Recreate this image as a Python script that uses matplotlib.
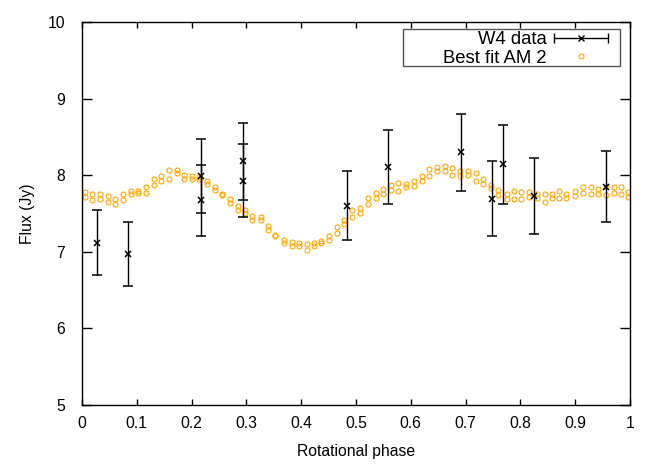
import numpy as np
import matplotlib.pyplot as plt
from matplotlib.legend_handler import HandlerErrorbar
from matplotlib.patches import Rectangle

plt.rcParams["font.family"] = ["Liberation Sans", "DejaVu Sans"]

# W4 measurements
w4_phase = [0.027, 0.084, 0.217, 0.217, 0.294, 0.294, 0.483, 0.559, 0.692,
            0.749, 0.768, 0.825, 0.957]
w4_flux = [7.12, 6.97, 7.99, 7.67, 8.18, 7.93, 7.60, 8.11, 8.30,
           7.69, 8.14, 7.73, 7.85]
w4_err = [0.42, 0.42, 0.48, 0.46, 0.50, 0.48, 0.45, 0.48, 0.50,
          0.49, 0.52, 0.50, 0.46]

# best-fit model (two interleaved sets of points)
model_phase = [0.005, 0.018, 0.033, 0.047, 0.061, 0.074, 0.089, 0.102, 0.117,
               0.131, 0.145, 0.159, 0.173, 0.187, 0.201, 0.214, 0.228, 0.242,
               0.255, 0.270, 0.284, 0.297, 0.311, 0.326, 0.339, 0.353, 0.368,
               0.383, 0.396, 0.410, 0.424, 0.437, 0.451, 0.465, 0.478, 0.492,
               0.507, 0.522, 0.536, 0.550, 0.564, 0.577, 0.592, 0.606, 0.620,
               0.634, 0.648, 0.662, 0.676, 0.690, 0.705, 0.719, 0.732, 0.746,
               0.760, 0.775, 0.789, 0.802, 0.816, 0.830, 0.844, 0.857, 0.870,
               0.884, 0.900, 0.914, 0.928, 0.942, 0.956, 0.970, 0.984, 0.997]
model_upper = [7.78, 7.75, 7.75, 7.73, 7.69, 7.75, 7.79, 7.80, 7.84,
               7.95, 7.99, 8.07, 8.07, 8.00, 7.99, 7.98, 7.92, 7.84,
               7.76, 7.69, 7.60, 7.54, 7.47, 7.45, 7.34, 7.22, 7.15,
               7.13, 7.11, 7.10, 7.12, 7.14, 7.20, 7.32, 7.42, 7.55,
               7.57, 7.70, 7.77, 7.82, 7.87, 7.90, 7.89, 7.92, 7.99,
               8.08, 8.11, 8.12, 8.09, 8.05, 8.06, 8.03, 7.95, 7.87,
               7.81, 7.75, 7.80, 7.78, 7.78, 7.76, 7.75, 7.75, 7.80,
               7.76, 7.80, 7.84, 7.85, 7.82, 7.84, 7.85, 7.85, 7.78]
model_lower = [7.71, 7.68, 7.69, 7.65, 7.62, 7.68, 7.75, 7.77, 7.77,
               7.87, 7.92, 7.95, 8.03, 7.95, 7.95, 7.95, 7.89, 7.81,
               7.74, 7.64, 7.55, 7.51, 7.42, 7.42, 7.28, 7.21, 7.11,
               7.08, 7.07, 7.03, 7.07, 7.11, 7.15, 7.25, 7.36, 7.45,
               7.50, 7.63, 7.70, 7.76, 7.81, 7.80, 7.85, 7.86, 7.93,
               7.99, 8.05, 8.06, 8.00, 7.99, 8.00, 7.93, 7.89, 7.83,
               7.74, 7.69, 7.69, 7.69, 7.72, 7.70, 7.65, 7.70, 7.70,
               7.70, 7.73, 7.77, 7.75, 7.75, 7.74, 7.77, 7.75, 7.72]

x_ticks = [0, 0.1, 0.2, 0.3, 0.4, 0.5, 0.6, 0.7, 0.8, 0.9, 1]
x_tick_labels = ["0", "0.1", "0.2", "0.3", "0.4", "0.5", "0.6", "0.7", "0.8", "0.9", "1"]
y_ticks = [5, 6, 7, 8, 9, 10]

ORANGE = "#ffa500"
FS = 11.3
LEG_FS = 13.3
W, H = 664, 465

fig = plt.figure(figsize=(W / 100, H / 100), dpi=100)
ax = fig.add_axes([82 / W, 1 - 405 / H, 548 / W, 383 / H])

ax.plot(model_phase, model_upper, linestyle="none", marker="o", markersize=3.6,
        markerfacecolor="none", markeredgecolor=ORANGE, markeredgewidth=0.8,
        label="Best fit AM 2", zorder=2)
ax.plot(model_phase, model_lower, linestyle="none", marker="o", markersize=3.6,
        markerfacecolor="none", markeredgecolor=ORANGE, markeredgewidth=0.8,
        zorder=2)

ax.errorbar(w4_phase, w4_flux, yerr=w4_err, fmt="x", color="black",
            markersize=5, markeredgewidth=1.1, elinewidth=1.0, capsize=3.5,
            capthick=1.0, zorder=3)

# legend proxy: gnuplot draws a horizontal error bar as the key sample
proxy = ax.errorbar([np.nan], [np.nan], xerr=[0.1], fmt="x", color="black",
                    markersize=5, markeredgewidth=1.0, elinewidth=1.0,
                    capsize=3.5, capthick=1.0, label="W4 data")

ax.set_xlim(0, 1)
ax.set_ylim(5, 10)
ax.set_xticks(x_ticks)
ax.set_xticklabels(x_tick_labels)
ax.set_yticks(y_ticks)

ax.tick_params(axis="both", direction="in", top=True, right=True,
               labelsize=FS, width=1.0)
ax.tick_params(axis="x", length=4.5, pad=8)
ax.tick_params(axis="y", length=7.5, pad=12)
for side in ax.spines.values():
    side.set_linewidth(1.0)

ax.set_xlabel("Rotational phase", fontsize=FS, labelpad=9)
ax.set_ylabel("Flux (Jy)", fontsize=FS, labelpad=9)

handles, labels = ax.get_legend_handles_labels()
order = [labels.index("W4 data"), labels.index("Best fit AM 2")]
leg = ax.legend([handles[i] for i in order], [labels[i] for i in order],
                loc="upper right",
                bbox_to_anchor=((609 - 82) / 548, (405 - 31.5) / 383),
                borderaxespad=0, borderpad=0, fontsize=LEG_FS,
                markerfirst=False, frameon=False, handlelength=3.0,
                labelspacing=0.06, handletextpad=0.38,
                handler_map={type(proxy): HandlerErrorbar(xerr_size=1.46)})

# gnuplot-style key box
fig.add_artist(Rectangle((403 / W, 1 - 66 / H), 217 / W, 37 / H,
                         transform=fig.transFigure, fill=False,
                         edgecolor="#555555", linewidth=1.0))

fig.savefig("out.png", dpi=100)
